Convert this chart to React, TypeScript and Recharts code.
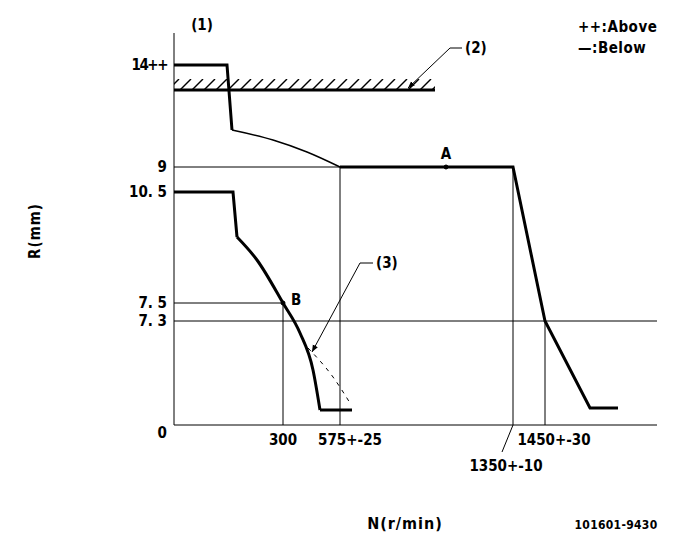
import React from 'react';
import {
  ComposedChart,
  Line,
  XAxis,
  YAxis,
  ReferenceLine,
  ReferenceArea,
  ReferenceDot,
  Label,
} from 'recharts';

// schematic diagram: units are "drawing units" (x from the R axis, y above the N axis),
// the printed ticks are labels only, the drawing is not to scale
type Pt = { x: number; y: number };

const upperStep: Pt[] = [
  { x: 0, y: 360 },
  { x: 53, y: 360 },
  { x: 58, y: 295 },
];
const upperCurve: Pt[] = [
  { x: 58, y: 295 },
  { x: 99, y: 285 },
  { x: 133, y: 273 },
  { x: 166, y: 258 },
];
const upperTail: Pt[] = [
  { x: 166, y: 258 },
  { x: 339, y: 258 },
  { x: 371, y: 104 },
  { x: 416, y: 17 },
  { x: 444, y: 17 },
];
const lowerStep: Pt[] = [
  { x: 0, y: 233 },
  { x: 59, y: 233 },
  { x: 63, y: 188 },
];
const lowerCurve: Pt[] = [
  { x: 63, y: 188 },
  { x: 83, y: 165 },
  { x: 109, y: 122 },
  { x: 126, y: 92 },
  { x: 139, y: 55 },
  { x: 146, y: 15 },
];
const lowerTail: Pt[] = [
  { x: 146, y: 15 },
  { x: 178, y: 15 },
];
const dashedCurve: Pt[] = [
  { x: 134, y: 77 },
  { x: 159, y: 48 },
  { x: 176, y: 22 },
];
const stopLine: Pt[] = [
  { x: 0, y: 335 },
  { x: 261, y: 335 },
];
const leader2: Pt[] = [
  { x: 234, y: 337 },
  { x: 276, y: 377 },
  { x: 288, y: 377 },
];
const leader3: Pt[] = [
  { x: 138, y: 73 },
  { x: 186, y: 162 },
  { x: 199, y: 162 },
];

const yTickPos = [0, 104, 122, 233, 258, 360];
const yTickLabels = ['0', '7. 3', '7. 5', '10. 5', '9', '14++'];
const xTickPos = [109, 166, 339, 371];
const xTickLabels = ['300', '575+-25', '1350+-10', '1450+-30'];

const pointA = { x: 272, y: 258 };
const pointB = { x: 109, y: 122 };

const FONT = '"Liberation Sans Narrow", "DejaVu Sans Condensed", sans-serif';
const INK = '#000';

const YTick = (props: any) => {
  const { x, y, payload } = props;
  const i = yTickPos.indexOf(payload.value);
  const label = yTickLabels[i];
  return (
    <text
      x={x + 1}
      y={y}
      dy={payload.value === 0 ? 13 : 5}
      textAnchor="end"
      fontFamily={FONT}
      fontWeight="bold"
      fontSize={15}
      letterSpacing={label.endsWith('++') ? -1.5 : 0}
      fill={INK}
    >
      {label}
    </text>
  );
};

const XTick = (props: any) => {
  const { x, y, payload } = props;
  const i = xTickPos.indexOf(payload.value);
  const label = xTickLabels[i];
  const shift = [0, 10, -7, 9][i];
  const low = label.startsWith('1350');
  return (
    <g>
      {low && <line x1={x} y1={y - 8} x2={x - 11} y2={y + 19} stroke={INK} strokeWidth={1} />}
      <text
        x={x + shift}
        y={y}
        dy={low ? 38 : 12}
        textAnchor="middle"
        fontFamily={FONT}
        fontWeight="bold"
        fontSize={15}
        fill={INK}
      >
        {label}
      </text>
    </g>
  );
};

const thick = { stroke: INK, strokeWidth: 3, dot: false, activeDot: false, isAnimationActive: false } as const;
const thin = { stroke: INK, strokeWidth: 1, dot: false, activeDot: false, isAnimationActive: false } as const;
const txt = { fontFamily: FONT, fontWeight: 'bold' as const, fill: INK };

export default function App() {
  return (
    <div style={{ position: 'absolute', left: 0, top: 0, width: 685, height: 549, background: '#fff' }}>
      <ComposedChart width={685} height={549} margin={{ top: 33, right: 28, bottom: 94, left: 114 }}>
        <defs>
          <pattern id="hatch" patternUnits="userSpaceOnUse" x={0} y={79} width={12} height={11}>
            <line x1={0} y1={11} x2={11} y2={0} stroke={INK} strokeWidth={1.4} />
          </pattern>
          <marker
            id="arr"
            viewBox="0 0 10 10"
            refX={10}
            refY={5}
            markerWidth={7}
            markerHeight={7}
            markerUnits="userSpaceOnUse"
            orient="auto-start-reverse"
          >
            <path d="M0,1 L10,5 L0,9 z" fill={INK} />
          </marker>
        </defs>
        <XAxis
          type="number"
          dataKey="x"
          domain={[0, 483]}
          ticks={xTickPos}
          tick={<XTick />}
          tickLine={false}
          axisLine={{ stroke: INK }}
          height={30}
          interval={0}
        />
        <YAxis
          type="number"
          dataKey="y"
          domain={[0, 392]}
          ticks={yTickPos}
          tick={<YTick />}
          tickLine={false}
          axisLine={{ stroke: INK }}
          width={60}
          interval={0}
        />
        <ReferenceArea x1={0} x2={261} y1={335} y2={346} fill="url(#hatch)" fillOpacity={1} stroke="none" />

        <ReferenceLine segment={[{ x: 0, y: 258 }, { x: 166, y: 258 }]} stroke={INK} />
        <ReferenceLine segment={[{ x: 166, y: 258 }, { x: 166, y: 0 }]} stroke={INK} />
        <ReferenceLine segment={[{ x: 0, y: 122 }, { x: 109, y: 122 }]} stroke={INK} />
        <ReferenceLine segment={[{ x: 109, y: 122 }, { x: 109, y: 0 }]} stroke={INK} />
        <ReferenceLine segment={[{ x: 0, y: 104 }, { x: 483, y: 104 }]} stroke={INK} />
        <ReferenceLine segment={[{ x: 339, y: 258 }, { x: 339, y: 0 }]} stroke={INK} />
        <ReferenceLine segment={[{ x: 371, y: 104 }, { x: 371, y: 0 }]} stroke={INK} />

        <Line data={stopLine} dataKey="y" type="linear" {...thick} />
        <Line data={upperStep} dataKey="y" type="linear" {...thick} />
        <Line data={upperCurve} dataKey="y" type="monotone" {...thin} strokeWidth={1.5} />
        <Line data={upperTail} dataKey="y" type="linear" {...thick} />
        <Line data={lowerStep} dataKey="y" type="linear" {...thick} />
        <Line data={lowerCurve} dataKey="y" type="monotone" {...thick} />
        <Line data={lowerTail} dataKey="y" type="linear" {...thick} />
        <Line data={dashedCurve} dataKey="y" type="monotone" {...thin} strokeDasharray="4 5" />
        <Line data={leader2} dataKey="y" type="linear" {...thin} markerStart="url(#arr)" />
        <Line data={leader3} dataKey="y" type="linear" {...thin} markerStart="url(#arr)" />

        <ReferenceDot x={pointA.x} y={pointA.y} r={2} fill={INK} stroke={INK}>
          <Label value="A" position="top" offset={6} {...txt} fontSize={15} />
        </ReferenceDot>
        <ReferenceDot x={pointB.x} y={pointB.y} r={2} fill={INK} stroke={INK}>
          <Label value="B" position="right" offset={6} dy={-3} {...txt} fontSize={15} />
        </ReferenceDot>
        <ReferenceDot x={leader2[2].x} y={leader2[2].y} r={0} stroke="none">
          <Label value="(2)" position="right" offset={3} {...txt} fontSize={15} />
        </ReferenceDot>
        <ReferenceDot x={leader3[2].x} y={leader3[2].y} r={0} stroke="none">
          <Label value="(3)" position="right" offset={3} {...txt} fontSize={15} />
        </ReferenceDot>
      </ComposedChart>
      <svg width={685} height={549} style={{ position: 'absolute', left: 0, top: 0, pointerEvents: 'none' }}>
        <text x={202} y={30} textAnchor="middle" fontSize={15} {...txt}>(1)</text>
        <text x={578} y={32} fontSize={15} letterSpacing={0.5} {...txt}>++:Above</text>
        <text x={578} y={53} fontSize={15} letterSpacing={0.5} {...txt}>—:Below</text>
        <text
          transform="translate(40,231) rotate(-90)"
          textAnchor="middle"
          fontSize={15}
          letterSpacing={1}
          {...txt}
        >
          R(mm)
        </text>
        <text x={405} y={529} textAnchor="middle" fontSize={16} letterSpacing={1} {...txt}>N(r/min)</text>
        <text x={616} y={529} textAnchor="middle" fontSize={12} letterSpacing={0.3} {...txt}>101601-9430</text>
      </svg>
    </div>
  );
}
